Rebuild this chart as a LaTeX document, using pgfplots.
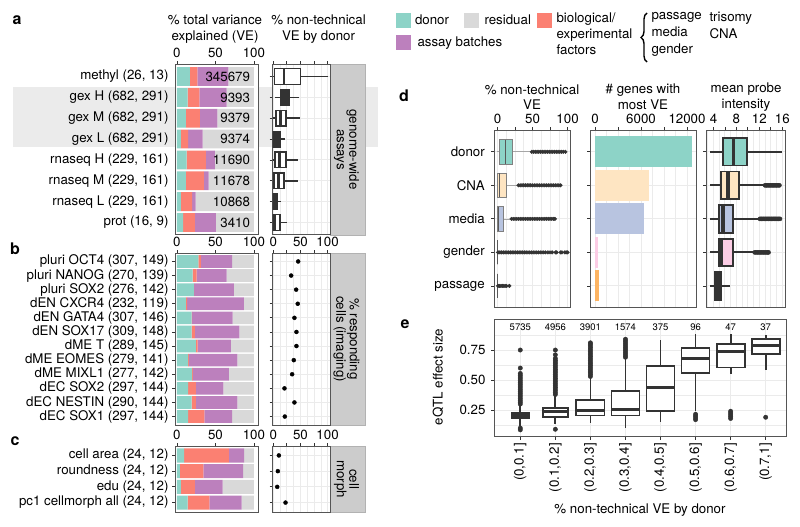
\documentclass[border=0pt]{standalone}
\usepackage{fontspec}
\setmainfont{TeX Gyre Heros}
\usepackage{pgfplots}
\usepackage{pgfplotstable}
\pgfplotsset{compat=1.18}
\usepgfplotslibrary{statistics}
\usetikzlibrary{decorations.pathreplacing}

\definecolor{cDonor}{HTML}{8DD3C7}
\definecolor{cBio}{HTML}{FB8072}
\definecolor{cBatch}{HTML}{BC80BD}
\definecolor{cRes}{HTML}{D9D9D9}
\definecolor{cCNA}{HTML}{FEE5C2}
\definecolor{cMedia}{HTML}{B8C4E0}
\definecolor{cGender}{HTML}{FCCDE5}
\definecolor{cPassage}{HTML}{FDB462}
\definecolor{cFrame}{HTML}{555555}
\definecolor{cGrid}{HTML}{EBEBEB}
\definecolor{cStrip}{HTML}{CCCCCC}
\definecolor{cDark}{HTML}{333333}

\newcommand\fs{\fontsize{13.3}{15.5}\selectfont}
\newcommand\fss{\fontsize{9.5}{11}\selectfont}

\pgfplotsset{
 gg/.style={
   scale only axis, anchor=north west,
   axis background/.style={fill=white},
   axis line style={cFrame, line width=1pt},
   tick align=outside,
   major tick length=3pt,
   minor tick length=0pt,
   tick style={cDark, line width=0.8pt},
   tick label style={font=\fs, text=black},
   /pgf/number format/assume math mode=true,
   /pgf/number format/1000 sep={},
   scaled x ticks=false, scaled y ticks=false,
   ytick pos=left,
   xtick pos=right, xticklabel pos=right,
   major grid style={cGrid, line width=0.9pt},
   minor grid style={cGrid, line width=0.5pt},
 },
 boxA/.style={
   boxplot/draw direction=x, boxplot/box extend=0.75, boxplot/whisker extend=0,
   boxplot/every box/.style={draw=cDark, fill=white, line width=1.5pt},
   boxplot/every whisker/.style={draw=cDark, line width=1.5pt},
   boxplot/every median/.style={draw=cDark, line width=2.6pt},
 },
 boxD1/.style={
   boxplot/draw direction=x, boxplot/box extend=0.72, boxplot/whisker extend=0,
   boxplot/every box/.style={draw=black!50, line width=0.7pt},
   boxplot/every whisker/.style={draw=black!35, line width=0.7pt},
   boxplot/every median/.style={draw=black!65, line width=1.1pt},
 },
 boxD3/.style={
   boxplot/draw direction=x, boxplot/box extend=0.82, boxplot/whisker extend=0,
   boxplot/every box/.style={draw=cDark, line width=1.8pt},
   boxplot/every whisker/.style={draw=cDark, line width=1.8pt},
   boxplot/every median/.style={draw=cDark, line width=3.8pt},
 },
 boxE/.style={
   boxplot/draw direction=y, boxplot/box extend=0.8, boxplot/whisker extend=0,
   boxplot/every box/.style={draw=cDark, fill=white, line width=1.8pt},
   boxplot/every whisker/.style={draw=cDark, line width=1.8pt},
   boxplot/every median/.style={draw=cDark, line width=3.2pt},
 },
}

% pos, lower whisker, lower quartile, median, upper quartile, upper whisker, extra box keys, extra plot keys
\newcommand{\bxp}[8]{\addplot[boxplot prepared={draw position=#1, lower whisker=#2, lower quartile=#3, median=#4, upper quartile=#5, upper whisker=#6, #7}, #8] coordinates {};}

\pgfplotstableread{
row donor bio batch resid
1 16.9 9.5 40.3 33.3
2 13.9 15.1 35.5 35.5
3 11.7 18.2 22.5 47.6
4 5.2 9.5 18.6 66.7
5 12.6 25.1 11.7 50.6
6 11.7 23.3 6.1 58.9
7 5.2 14.7 4.4 75.7
8 8.2 15.2 27.2 49.4
}\tabA

\pgfplotstableread{
row donor bio batch resid
1 27.7 3.5 40.6 28.2
2 20.4 5.1 39.0 35.5
3 22.1 0.4 51.5 26.0
4 11.7 1.7 73.6 13.0
5 19.0 0.9 52.4 27.7
6 19.0 4.4 57.6 19.0
7 24.7 2.1 43.3 29.9
8 14.7 0.9 62.8 21.6
9 19.9 0.9 46.7 32.5
10 14.7 10.0 35.5 39.8
11 19.0 5.7 53.7 21.6
12 14.7 20.8 36.3 28.2
}\tabB

\pgfplotstableread{
row donor bio batch resid
1 9.5 58.0 19.9 12.6
2 3.9 30.3 51.9 13.9
3 5.2 18.2 35.9 40.7
4 13.9 28.1 42.0 16.0
}\tabC

\pgfplotstableread{
row v
1 45.9
2 33.0
3 42.2
4 45.1
5 39.0
6 42.7
7 42.7
8 37.8
9 34.8
10 20.7
11 39.0
12 21.3
}\tabBdot

\pgfplotstableread{
row v
1 10.3
2 8.5
3 7.3
4 22.6
}\tabCdot

\begin{document}
\begin{tikzpicture}[font=\fs]
\path[use as bounding box] (0pt,0pt) rectangle (800pt,-527pt);

% highlight band
\fill[cGrid] (13pt,-87pt) rectangle (378pt,-147pt);

% panel letters
\node[font=\fontsize{16}{18}\selectfont\bfseries] at (17pt,-20pt) {a};
\node[font=\fontsize{16}{18}\selectfont\bfseries] at (15pt,-249pt) {b};
\node[font=\fontsize{16}{18}\selectfont\bfseries] at (15pt,-441pt) {c};
\node[font=\fontsize{16}{18}\selectfont\bfseries] at (404pt,-96pt) {d};
\node[font=\fontsize{16}{18}\selectfont\bfseries] at (405pt,-324pt) {e};

% titles panel a
\node[align=center] at (215pt,-29pt) {\% total variance\\explained (VE)};
\node[align=center] at (318.5pt,-29pt) {\% non-technical\\VE by donor};

% strips
\filldraw[fill=cStrip, draw=black!30, line width=0.6pt] (330pt,-64pt) rectangle (365pt,-235pt);
\node[rotate=-90, align=center, font=\fontsize{13.3}{12.5}\selectfont] at (346.5pt,-149.5pt) {genome-wide\\assays};
\filldraw[fill=cStrip, draw=black!30, line width=0.6pt] (330pt,-253pt) rectangle (365pt,-425pt);
\node[rotate=-90, align=center, font=\fontsize{13.3}{12.5}\selectfont] at (346.5pt,-339pt) {\% responding\\cells (imaging)};
\filldraw[fill=cStrip, draw=black!30, line width=0.6pt] (330pt,-446pt) rectangle (365pt,-512pt);
\node[rotate=-90, align=center, font=\fontsize{13.3}{12.5}\selectfont] at (346.5pt,-479pt) {cell\\morph};

% ---------- panel a bars ----------
\begin{axis}[gg, at={(175pt,-64pt)}, width=83pt, height=171pt,
  xmin=-2.5, xmax=105.3, ymin=0.4, ymax=8.6, y dir=reverse,
  xtick={0,50,100}, ytick={1,...,8}, ytick style={draw=none},
  yticklabels={{methyl (26, 13)},{gex H (682, 291)},{gex M (682, 291)},{gex L (682, 291)},{rnaseq H (229, 161)},{rnaseq M (229, 161)},{rnaseq L (229, 161)},{prot (16, 9)}},
  xbar stacked, bar width=0.9]
\addplot[fill=cDonor, draw=none] table[x=donor,y=row]{\tabA};
\addplot[fill=cBio, draw=none] table[x=bio,y=row]{\tabA};
\addplot[fill=cBatch, draw=none] table[x=batch,y=row]{\tabA};
\addplot[fill=cRes, draw=none] table[x=resid,y=row]{\tabA};
\end{axis}
% VE counts written over the bars
\node[anchor=east] at (253.5pt,-76.5pt) {345679};
\node[anchor=east] at (253.5pt,-97.4pt) {9393};
\node[anchor=east] at (253.5pt,-118.2pt) {9379};
\node[anchor=east] at (253.5pt,-139.1pt) {9374};
\node[anchor=east] at (253.5pt,-159.9pt) {11690};
\node[anchor=east] at (253.5pt,-180.8pt) {11678};
\node[anchor=east] at (253.5pt,-201.7pt) {10868};
\node[anchor=east] at (253.5pt,-222.5pt) {3410};

% ---------- panel a boxplots ----------
\begin{axis}[gg, boxA, at={(272.7pt,-64pt)}, width=57.3pt, height=171pt,
  xmin=-1, xmax=104.5, ymin=0.4, ymax=8.6, y dir=reverse,
  xtick={0,25,50,75,100}, xticklabels={}, minor xtick={12.5,37.5,62.5,87.5},
  ytick={1,...,8}, yticklabels={}, grid=both]
\bxp{1}{0}{2.5}{20}{50}{100}{}{}
\bxp{2}{3.3}{13.8}{22}{29.7}{48}{}{boxplot/every box/.append style={fill=cDark}}
\bxp{3}{0}{5.2}{13.8}{23.6}{49.4}{}{}
\bxp{4}{0}{0}{5}{12.3}{21.7}{}{boxplot/every box/.append style={fill=cDark}}
\bxp{5}{0}{3.3}{11.3}{23.6}{46.2}{}{}
\bxp{6}{0}{1.5}{9.4}{19.9}{45.1}{}{}
\bxp{7}{0}{0}{3.5}{7.6}{13.8}{}{boxplot/every box/.append style={fill=cDark}}
\bxp{8}{0}{0}{3.3}{12.3}{24.9}{}{}
\end{axis}

% ---------- panel b bars ----------
\begin{axis}[gg, at={(175pt,-253pt)}, width=83pt, height=172pt,
  xmin=-2.5, xmax=105.3, ymin=0.4, ymax=12.6, y dir=reverse,
  xtick={0,50,100}, ytick={1,...,12},
  yticklabels={{pluri OCT4 (307, 149)},{pluri NANOG (270, 139)},{pluri SOX2 (276, 142)},{dEN CXCR4 (232, 119)},{dEN GATA4 (307, 146)},{dEN SOX17 (309, 148)},{dME T (289, 145)},{dME EOMES (279, 141)},{dME MIXL1 (277, 142)},{dEC SOX2 (297, 144)},{dEC NESTIN (290, 144)},{dEC SOX1 (297, 144)}},
  xbar stacked, bar width=0.9]
\addplot[fill=cDonor, draw=none] table[x=donor,y=row]{\tabB};
\addplot[fill=cBio, draw=none] table[x=bio,y=row]{\tabB};
\addplot[fill=cBatch, draw=none] table[x=batch,y=row]{\tabB};
\addplot[fill=cRes, draw=none] table[x=resid,y=row]{\tabB};
\end{axis}

% ---------- panel b dots ----------
\begin{axis}[gg, at={(272.7pt,-253pt)}, width=57.3pt, height=172pt,
  xmin=-1, xmax=104.5, ymin=0.4, ymax=12.6, y dir=reverse,
  xtick={0,25,50,75,100}, xticklabels={0,,50,,100}, minor xtick={12.5,37.5,62.5,87.5},
  ytick={1,...,12}, yticklabels={}, grid=both]
\addplot[only marks, mark=*, mark size=2pt, black] table[x=v,y=row]{\tabBdot};
\end{axis}

% ---------- panel c bars ----------
\begin{axis}[gg, at={(175pt,-446pt)}, width=83pt, height=66pt,
  xmin=-2.5, xmax=105.3, ymin=0.4, ymax=4.6, y dir=reverse,
  xtick={0,50,100}, ytick={1,...,4},
  yticklabels={{cell area (24, 12)},{roundness (24, 12)},{edu (24, 12)},{pc1 cellmorph all (24, 12)}},
  xbar stacked, bar width=0.9]
\addplot[fill=cDonor, draw=none] table[x=donor,y=row]{\tabC};
\addplot[fill=cBio, draw=none] table[x=bio,y=row]{\tabC};
\addplot[fill=cBatch, draw=none] table[x=batch,y=row]{\tabC};
\addplot[fill=cRes, draw=none] table[x=resid,y=row]{\tabC};
\end{axis}

% ---------- panel c dots ----------
\begin{axis}[gg, at={(272.7pt,-446pt)}, width=57.3pt, height=66pt,
  xmin=-1, xmax=104.5, ymin=0.4, ymax=4.6, y dir=reverse,
  xtick={0,25,50,75,100}, xticklabels={0,,50,,100}, minor xtick={12.5,37.5,62.5,87.5},
  ytick={1,...,4}, yticklabels={}, grid=both]
\addplot[only marks, mark=*, mark size=2pt, black] table[x=v,y=row]{\tabCdot};
\end{axis}

% ---------- legend ----------
\fill[cDonor] (396pt,-13pt) rectangle (411pt,-28pt);
\node[anchor=west] at (411.5pt,-19.5pt) {donor};
\fill[cBatch] (396pt,-35pt) rectangle (411pt,-50pt);
\node[anchor=west] at (414pt,-43.5pt) {assay batches};
\fill[cRes] (464pt,-13pt) rectangle (479pt,-28pt);
\node[anchor=west] at (481pt,-19.5pt) {residual};
\fill[cBio] (537pt,-13pt) rectangle (552pt,-28pt);
\node[anchor=north west, align=left, font=\fontsize{13.3}{16.3}\selectfont] at (553pt,-9pt) {biological/\\experimental\\factors};
\draw[decorate, decoration={brace, amplitude=6pt}, line width=1.4pt] (647pt,-62pt) -- (647pt,-13pt);
\node[anchor=north west, align=left, font=\fontsize{13.3}{16.8}\selectfont] at (648pt,-9pt) {passage\\media\\gender};
\node[anchor=north west, align=left, font=\fontsize{13.3}{16.3}\selectfont] at (706pt,-9pt) {trisomy\\CNA};

% ---------- panel d titles ----------
\node[align=center] at (532pt,-97pt) {\% non-technical\\VE};
\node[align=center] at (643pt,-97pt) {\# genes with\\most VE};
\node[align=center] at (746pt,-97pt) {mean probe\\intensity};

% ---------- panel d1 ----------
\begin{axis}[gg, boxD1, at={(494.3pt,-130pt)}, width=75.7pt, height=177.7pt,
  xmin=-4.5, xmax=103.5, ymin=0.35, ymax=5.65, y dir=reverse,
  xtick={0,25,50,75,100}, xticklabels={0,,50,,100}, minor xtick={12.5,37.5,62.5,87.5},
  ytick={1,...,5}, yticklabels={donor,CNA,media,gender,passage},
  yticklabel style={xshift=-3pt}, grid=both]
\bxp{1}{0}{2.4}{11}{21.8}{48.8}{}{boxplot/every box/.append style={fill=cDonor}}
\bxp{2}{0}{0}{2.4}{12.4}{30}{}{boxplot/every box/.append style={fill=cCNA}}
\bxp{3}{0}{0}{1}{8.5}{19.5}{}{boxplot/every box/.append style={fill=cMedia}}
\bxp{4}{0}{0}{0}{0}{0}{}{boxplot/every box/.append style={fill=cGender}}
\bxp{5}{0}{0}{0}{0}{0}{}{boxplot/every box/.append style={fill=cPassage}}
\addplot[only marks, mark=*, mark size=1.8pt, cDark] coordinates {
(49,1) (51.5,1) (54,1) (56.5,1) (59,1) (61.5,1) (64,1) (66.5,1) (69,1) (71.5,1) (74,1) (76.5,1) (79,1) (81.5,1) (84,1) (86.5,1) (89,1) (91.5,1) (94,1) (97,1)
(30,2) (32.5,2) (35,2) (37.5,2) (40,2) (42.5,2) (45,2) (47.5,2) (50,2) (52.5,2) (55,2) (57.5,2) (60,2) (62.5,2) (65,2) (67.5,2) (70,2) (72.5,2) (75,2) (77.5,2) (80,2) (82.5,2) (85,2) (87.5,2) (90,2)
(20,3) (22.5,3) (25,3) (27.5,3) (30,3) (32.5,3) (35,3) (37.5,3) (40,3) (42.5,3) (45,3) (47.5,3) (50,3) (52.5,3) (55,3) (57.5,3) (60,3) (62.5,3) (65,3) (67.5,3) (70,3) (72.5,3) (75,3) (77.5,3) (80,3) (82,3)
(1,4) (3.5,4) (6,4) (8.5,4) (11,4) (13.5,4) (16,4) (18.5,4) (21,4) (23.5,4) (26,4) (28.5,4) (31,4) (33.5,4) (36,4) (38.5,4) (41,4) (43.5,4) (46,4) (48.5,4) (51,4) (53.5,4) (56,4) (58.5,4) (61,4) (63.5,4) (66,4) (68.5,4) (72,4) (75,4) (78,4) (83,4) (84.5,4) (90,4) (92,4) (96,4) (98,4) (100,4)
(1,5) (3,5) (5,5) (7,5) (9,5) (11,5) (13,5) (17,5)
};
\end{axis}

% ---------- panel d2 ----------
\begin{axis}[gg, at={(590pt,-130pt)}, width=106.7pt, height=177.7pt,
  xmin=-652, xmax=13265, ymin=0.35, ymax=5.65, y dir=reverse,
  xtick={0,3000,6000,9000,12000}, xticklabels={0,,6000,,12000}, minor xtick={1500,4500,7500,10500},
  ytick={1,...,5}, yticklabels={}, grid=both,
  xbar, bar width=0.92, bar shift=0pt]
\addplot[fill=cDonor, draw=none] coordinates {(12600,1)};
\addplot[fill=cCNA, draw=none] coordinates {(7080,2)};
\addplot[fill=cMedia, draw=none] coordinates {(6390,3)};
\addplot[fill=cGender, draw=none] coordinates {(430,4)};
\addplot[fill=cPassage, draw=none] coordinates {(520,5)};
\end{axis}

% ---------- panel d3 ----------
\begin{axis}[gg, boxD3, at={(706pt,-130pt)}, width=79.7pt, height=177.7pt,
  xmin=2.7, xmax=16.6, ymin=0.35, ymax=5.65, y dir=reverse,
  xtick={4,6,...,16}, xticklabels={4,,8,,12,,16}, minor xtick={3,5,...,15},
  ytick={1,...,5}, yticklabels={}, grid=both]
\bxp{1}{3.4}{5.6}{7.5}{9.9}{15.9}{}{boxplot/every box/.append style={fill=cDonor}}
\bxp{2}{3.4}{5.3}{6.6}{8.5}{13.0}{}{boxplot/every box/.append style={fill=cCNA}}
\bxp{3}{3.4}{4.9}{5.7}{7.4}{12.1}{}{boxplot/every box/.append style={fill=cMedia}}
\bxp{4}{3.4}{4.9}{5.3}{7.4}{11.2}{}{boxplot/every box/.append style={fill=cGender}}
\bxp{5}{3.4}{4.3}{4.9}{5.4}{6.9}{}{boxplot/every box/.append style={fill=cDark}}
\addplot[only marks, mark=*, mark size=2.1pt, cDark] coordinates {
(13.0,2) (13.25,2) (13.5,2) (13.75,2) (14.0,2) (14.25,2) (14.5,2) (14.75,2) (15.0,2) (15.25,2) (15.5,2)
(12.1,3) (12.35,3) (12.6,3) (12.85,3) (13.1,3) (13.35,3) (13.6,3) (13.85,3) (14.1,3) (14.35,3) (14.6,3) (14.85,3) (15.1,3) (15.35,3) (15.6,3)
(11.2,4) (11.45,4) (11.7,4) (11.95,4) (12.2,4) (12.45,4) (12.7,4) (12.95,4) (13.2,4) (13.45,4) (13.6,4)
};
\end{axis}

% ---------- panel e ----------
\begin{axis}[gg, boxE, at={(494pt,-319.3pt)}, width=292.7pt, height=117.4pt,
  xmin=0.25, xmax=8.6, ymin=0.028, ymax=1.006,
  xtick={1,...,8}, xtick pos=left, xticklabel pos=left,
  xticklabels={{(0,0.1]},{(0.1,0.2]},{(0.2,0.3]},{(0.3,0.4]},{(0.4,0.5]},{(0.5,0.6]},{(0.6,0.7]},{(0.7,1]}},
  xticklabel style={rotate=90, anchor=east},
  ytick={0.25,0.5,0.75}, yticklabels={0.25,0.50,0.75}, minor ytick={0.125,0.375,0.625,0.875},
  yticklabel style={xshift=-2pt}, grid=both]
\bxp{1}{0.12}{0.18}{0.20}{0.225}{0.29}{box extend=0.5}{}
\bxp{2}{0.13}{0.195}{0.235}{0.27}{0.38}{box extend=0.72}{}
\bxp{3}{0.14}{0.205}{0.245}{0.335}{0.53}{}{}
\bxp{4}{0.10}{0.205}{0.255}{0.41}{0.69}{}{}
\bxp{5}{0.15}{0.24}{0.435}{0.615}{0.83}{}{}
\bxp{6}{0.245}{0.56}{0.68}{0.77}{0.88}{}{}
\bxp{7}{0.55}{0.605}{0.74}{0.80}{0.88}{}{}
\bxp{8}{0.58}{0.715}{0.79}{0.845}{0.875}{}{}
\addplot[only marks, mark=*, mark size=2.2pt, cDark] coordinates {
(1,0.085) (1,0.1) (1,0.30) (1,0.315) (1,0.33) (1,0.345) (1,0.36) (1,0.375) (1,0.39) (1,0.405) (1,0.42) (1,0.435) (1,0.45) (1,0.465) (1,0.48) (1,0.495) (1,0.51) (1,0.525) (1,0.54) (1,0.555) (1,0.60) (1,0.75)
(2,0.09) (2,0.38) (2,0.395) (2,0.41) (2,0.425) (2,0.44) (2,0.455) (2,0.47) (2,0.485) (2,0.50) (2,0.515) (2,0.53) (2,0.545) (2,0.56) (2,0.575) (2,0.59) (2,0.605) (2,0.62) (2,0.635) (2,0.65) (2,0.665) (2,0.68) (2,0.71) (2,0.75)
(3,0.53) (3,0.545) (3,0.56) (3,0.575) (3,0.59) (3,0.605) (3,0.62) (3,0.635) (3,0.65) (3,0.665) (3,0.68) (3,0.695) (3,0.71) (3,0.725) (3,0.74) (3,0.755) (3,0.77) (3,0.785) (3,0.80) (3,0.81)
(4,0.69) (4,0.705) (4,0.72) (4,0.735) (4,0.75) (4,0.765) (4,0.78) (4,0.795) (4,0.81) (4,0.825) (4,0.84)
(6,0.17) (6,0.185) (6,0.20) (6,0.215)
(7,0.18) (7,0.195) (7,0.21) (7,0.225) (7,0.24)
(8,0.19)
};
\node[font=\fss] at (axis cs:1,0.944) {5735};
\node[font=\fss] at (axis cs:2,0.944) {4956};
\node[font=\fss] at (axis cs:3,0.944) {3901};
\node[font=\fss] at (axis cs:4,0.944) {1574};
\node[font=\fss] at (axis cs:5,0.944) {375};
\node[font=\fss] at (axis cs:6,0.944) {96};
\node[font=\fss] at (axis cs:7,0.944) {47};
\node[font=\fss] at (axis cs:8,0.944) {37};
\end{axis}
\node[rotate=90] at (438pt,-377pt) {eQTL effect size};
\node at (640pt,-510pt) {\% non-technical VE by donor};

\end{tikzpicture}
\end{document}
